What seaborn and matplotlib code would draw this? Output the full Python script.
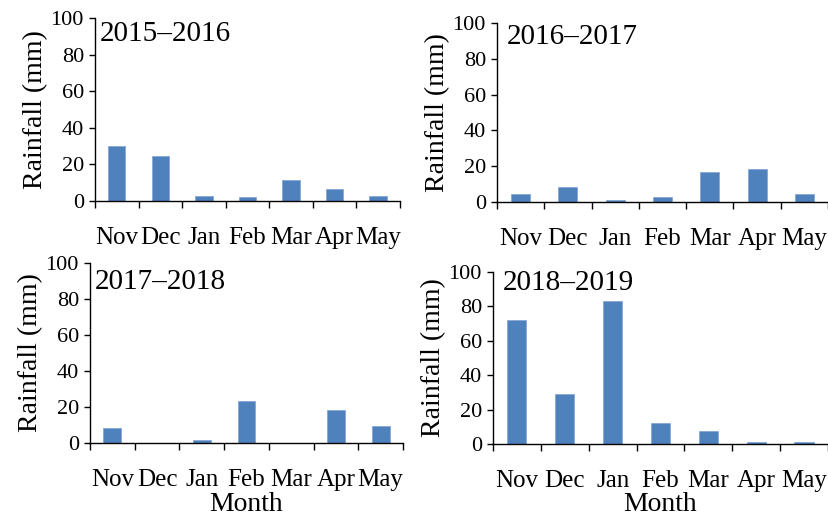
import pandas as pd
import matplotlib.pyplot as plt
import seaborn as sns

months = ["Nov", "Dec", "Jan", "Feb", "Mar", "Apr", "May"]
seasons = ["2015\u20132016", "2016\u20132017", "2017\u20132018", "2018\u20132019"]
rain_2015_2016 = [30.2, 24.6, 2.9, 2.0, 11.6, 6.7, 2.9]
rain_2016_2017 = [4.5, 8.3, 1.3, 2.8, 16.7, 18.4, 4.5]
rain_2017_2018 = [8.3, 0.0, 1.9, 23.1, 0.0, 18.3, 9.3]
rain_2018_2019 = [72.1, 29.3, 83.3, 12.0, 7.8, 1.0, 1.0]

sns.set_style("ticks")
plt.rcParams["font.family"] = ["Liberation Serif", "DejaVu Serif"]
plt.rcParams["text.color"] = "black"
plt.rcParams["axes.labelcolor"] = "black"
plt.rcParams["xtick.color"] = "black"
plt.rcParams["ytick.color"] = "black"

df = pd.DataFrame({
    "month": months * 4,
    "season": [s for s in seasons for _ in months],
    "rainfall": rain_2015_2016 + rain_2016_2017 + rain_2017_2018 + rain_2018_2019,
})

W, H = 829, 517
fig = plt.figure(figsize=(W / 100, H / 100), dpi=100)
# axes boxes in pixels: left, top, right, bottom
boxes = [(95, 18, 400, 201), (497, 23, 828, 202), (90, 263, 403, 443), (493, 272, 828, 444)]
# season label position in axes coords
tag_pos = [(0.016, 0.913), (0.03, 0.92), (0.016, 0.894), (0.03, 0.936)]

for i, season in enumerate(seasons):
    l, t, r, b = boxes[i]
    ax = fig.add_axes([l / W, 1 - b / H, (r - l) / W, (b - t) / H])
    sub = df[df["season"] == season]
    sns.barplot(data=sub, x="month", y="rainfall", order=months, color="#4F81BD",
                saturation=1, width=0.4, edgecolor="#7FA3D3", linewidth=0.5, ax=ax)
    ax.set_ylim(0, 100)
    ax.set_xlim(-0.5, 6.5)
    ax.set_yticks([0, 20, 40, 60, 80, 100])
    ax.set_xticks(range(7))
    ax.set_xticks([x - 0.5 for x in range(8)], minor=True)
    ax.tick_params(axis="x", which="major", length=0, pad=19, labelsize=18)
    ax.tick_params(axis="x", which="minor", length=5, width=1, direction="out")
    ax.tick_params(axis="y", length=4, width=1, pad=4, labelsize=16)
    for s in ["left", "bottom"]:
        ax.spines[s].set_color("black")
        ax.spines[s].set_linewidth(1)
    sns.despine(ax=ax)
    ax.set_ylabel("Rainfall (mm)", fontsize=20, labelpad=2)
    if i >= 2:
        ax.set_xlabel("Month", fontsize=20)
        ax.xaxis.set_label_coords(0.5, -(492 - b) / (b - t))
    else:
        ax.set_xlabel("")
    ax.text(tag_pos[i][0], tag_pos[i][1], season, transform=ax.transAxes,
            fontsize=21, ha="left", va="center")

fig.savefig("out.png", dpi=100)
